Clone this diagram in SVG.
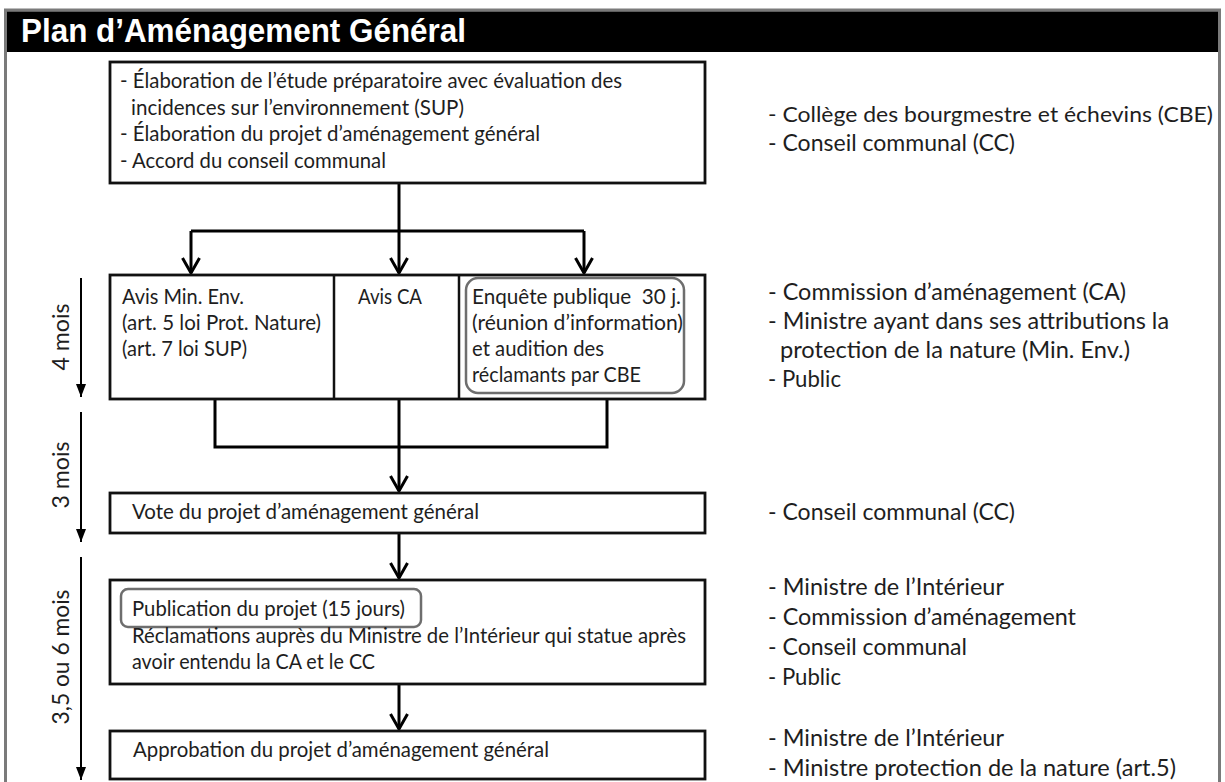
<svg xmlns="http://www.w3.org/2000/svg" width="1225" height="782" viewBox="0 0 1225 782">
<defs>
<style>
.frame{fill:#fff;stroke:#7a7a7a;stroke-width:3}
.box{fill:#fff;stroke:#111;stroke-width:2.8}
.div{stroke:#111;stroke-width:2.5}
.rbox{fill:none;stroke:#6e6e6e;stroke-width:2.5}
.con{fill:none;stroke:#000;stroke-width:3;stroke-linejoin:miter}
.arr{marker-end:url(#chev)}
.tl{fill:none;stroke:#000;stroke-width:2;marker-end:url(#tri)}
.t{font-family:Lato,"Open Sans",sans-serif;font-size:21px;fill:#1e1e1e}
.r{font-family:Lato,"Open Sans",sans-serif;font-size:24px;fill:#1e1e1e}
.m{font-family:Lato,"Open Sans",sans-serif;font-size:23px;fill:#1e1e1e}
.title{font-family:"Liberation Sans",Arial,sans-serif;font-weight:bold;font-size:34px;fill:#fff}
</style>
<marker id="chev" markerUnits="userSpaceOnUse" markerWidth="30" markerHeight="30" refX="0" refY="0" orient="auto" overflow="visible">
<path d="M-15,-8.5 L0,0 L-15,8.5" fill="none" stroke="#000" stroke-width="3"/>
</marker>
<marker id="tri" markerUnits="userSpaceOnUse" markerWidth="20" markerHeight="20" refX="0" refY="0" orient="auto" overflow="visible">
<path d="M-13,-5 L0,0 L-13,5 Z" fill="#000"/>
</marker>
</defs>
<rect width="1225" height="782" fill="#fff"/>
<g id="frame">
<rect class="frame" x="5.5" y="10" width="1214" height="800"/>
<rect x="7" y="11.5" width="1211" height="40.5" fill="#000"/>
<text class="title" x="21" y="42" textLength="445" lengthAdjust="spacingAndGlyphs">Plan d’Aménagement Général</text>
</g>
<g id="timeline">
<path class="tl" d="M81,278 V397"/>
<path class="tl" d="M81,412 V542"/>
<path class="tl" d="M81,557 V780"/>
<text class="m" transform="translate(69,337) rotate(-90)" text-anchor="middle" textLength="67" lengthAdjust="spacingAndGlyphs">4 mois</text>
<text class="m" transform="translate(69,475) rotate(-90)" text-anchor="middle" textLength="67" lengthAdjust="spacingAndGlyphs">3 mois</text>
<text class="m" transform="translate(69,657) rotate(-90)" text-anchor="middle" textLength="135" lengthAdjust="spacingAndGlyphs">3,5 ou 6 mois</text>
</g>
<g id="connectors">
<path class="con arr" d="M399,183 V273"/>
<path class="con" d="M191,231 H584"/>
<path class="con arr" d="M191,231 V273"/>
<path class="con arr" d="M584,231 V273"/>
<path class="con" d="M215,399 V447 H607 V399"/>
<path class="con arr" d="M399,399 V491"/>
<path class="con arr" d="M399,533 V578"/>
<path class="con arr" d="M399,684 V729"/>
</g>
<g id="node-elaboration">
<rect class="box" x="110" y="62" width="595" height="121"/>
<text class="t" x="120" y="88" textLength="502" lengthAdjust="spacingAndGlyphs">- Élaboration de l’étude préparatoire avec évaluation des</text>
<text class="t" x="131" y="114.7" textLength="333" lengthAdjust="spacingAndGlyphs">incidences sur l’environnement (SUP)</text>
<text class="t" x="120" y="141.3" textLength="420" lengthAdjust="spacingAndGlyphs">- Élaboration du projet d’aménagement général</text>
<text class="t" x="120" y="168" textLength="266" lengthAdjust="spacingAndGlyphs">- Accord du conseil communal</text>
</g>
<g id="node-avis">
<rect class="box" x="110" y="275" width="595" height="124"/>
<line class="div" x1="334" y1="275" x2="334" y2="399"/>
<line class="div" x1="459" y1="275" x2="459" y2="399"/>
<text class="t" x="122" y="304" textLength="122" lengthAdjust="spacingAndGlyphs">Avis Min. Env.</text>
<text class="t" x="122" y="330" textLength="199" lengthAdjust="spacingAndGlyphs">(art. 5 loi Prot. Nature)</text>
<text class="t" x="122" y="356" textLength="125" lengthAdjust="spacingAndGlyphs">(art. 7 loi SUP)</text>
<text class="t" x="358" y="304" textLength="64" lengthAdjust="spacingAndGlyphs">Avis CA</text>
<rect class="rbox" x="466" y="278" width="218" height="115" rx="12"/>
<text class="t" x="472" y="304" textLength="209" lengthAdjust="spacingAndGlyphs">Enquête publique&#160; 30 j.</text>
<text class="t" x="472" y="330" textLength="211" lengthAdjust="spacingAndGlyphs">(réunion d’information)</text>
<text class="t" x="472" y="356" textLength="132" lengthAdjust="spacingAndGlyphs">et audition des</text>
<text class="t" x="472" y="382" textLength="169" lengthAdjust="spacingAndGlyphs">réclamants par CBE</text>
</g>
<g id="node-vote">
<rect class="box" x="110" y="493" width="595" height="40"/>
<text class="t" x="132" y="519" textLength="347" lengthAdjust="spacingAndGlyphs">Vote du projet d’aménagement général</text>
</g>
<g id="node-publication">
<rect class="box" x="110" y="580" width="595" height="104"/>
<rect class="rbox" x="121" y="589" width="300" height="38" rx="7"/>
<text class="t" x="132" y="616" textLength="273" lengthAdjust="spacingAndGlyphs">Publication du projet (15 jours)</text>
<text class="t" x="132" y="643" textLength="554" lengthAdjust="spacingAndGlyphs">Réclamations auprès du Ministre de l’Intérieur qui statue après</text>
<text class="t" x="132" y="669" textLength="243" lengthAdjust="spacingAndGlyphs">avoir entendu la CA et le CC</text>
</g>
<g id="node-approbation">
<rect class="box" x="110" y="731" width="595" height="48"/>
<text class="t" x="133" y="757" textLength="416" lengthAdjust="spacingAndGlyphs">Approbation du projet d’aménagement général</text>
</g>
<g id="actors-1">
<text class="r" x="768" y="122" style="font-size:22px" textLength="445" lengthAdjust="spacingAndGlyphs">- Collège des bourgmestre et échevins (CBE)</text>
<text class="r" x="768" y="151" textLength="247" lengthAdjust="spacingAndGlyphs">- Conseil communal (CC)</text>
</g>
<g id="actors-2">
<text class="r" x="768" y="300" textLength="358" lengthAdjust="spacingAndGlyphs">- Commission d’aménagement (CA)</text>
<text class="r" x="768" y="329" textLength="401" lengthAdjust="spacingAndGlyphs">- Ministre ayant dans ses attributions la</text>
<text class="r" x="780" y="358" textLength="350" lengthAdjust="spacingAndGlyphs">protection de la nature (Min. Env.)</text>
<text class="r" x="768" y="387" textLength="73" lengthAdjust="spacingAndGlyphs">- Public</text>
</g>
<g id="actors-3">
<text class="r" x="768" y="520" textLength="247" lengthAdjust="spacingAndGlyphs">- Conseil communal (CC)</text>
</g>
<g id="actors-4">
<text class="r" x="768" y="595" textLength="236" lengthAdjust="spacingAndGlyphs">- Ministre de l’Intérieur</text>
<text class="r" x="768" y="625" textLength="308" lengthAdjust="spacingAndGlyphs">- Commission d’aménagement</text>
<text class="r" x="768" y="655" textLength="199" lengthAdjust="spacingAndGlyphs">- Conseil communal</text>
<text class="r" x="768" y="685" textLength="73" lengthAdjust="spacingAndGlyphs">- Public</text>
</g>
<g id="actors-5">
<text class="r" x="768" y="746" textLength="236" lengthAdjust="spacingAndGlyphs">- Ministre de l’Intérieur</text>
<text class="r" x="768" y="776" textLength="408" lengthAdjust="spacingAndGlyphs">- Ministre protection de la nature (art.5)</text>
</g>
</svg>
